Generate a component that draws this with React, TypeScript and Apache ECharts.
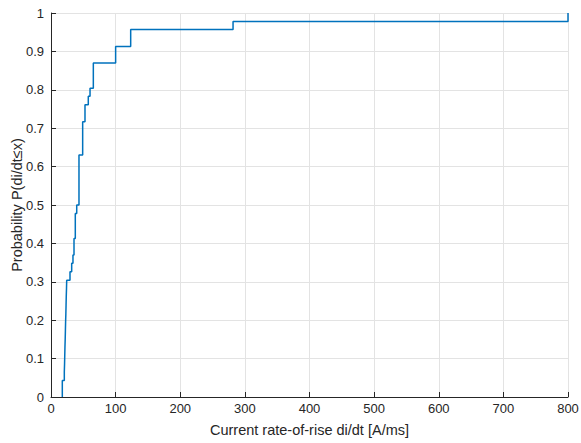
import React, { useEffect, useRef } from "react";
import * as echarts from "echarts";

// Empirical CDF of di/dt: step positions (A/ms) and cumulative probability after each step
const stepX = [17.5, 17.5, 20.6, 21, 21.3, 21.6, 22, 22.3, 22.6, 23, 23.3, 23.6, 24, 24.3, 29.4, 32, 34, 35.6, 37.6, 39.8, 43.3, 49, 52.6, 57.7, 60.4, 65.5, 100, 123.3, 281.7, 800];
const stepY = [0, 0.043, 0.065, 0.087, 0.109, 0.13, 0.152, 0.174, 0.196, 0.217, 0.239, 0.261, 0.283, 0.304, 0.326, 0.348, 0.37, 0.413, 0.478, 0.5, 0.63, 0.717, 0.761, 0.783, 0.804, 0.87, 0.913, 0.957, 0.978, 1];

const xTicks = [0, 100, 200, 300, 400, 500, 600, 700, 800];
const yTicks = [0, 0.1, 0.2, 0.3, 0.4, 0.5, 0.6, 0.7, 0.8, 0.9, 1];

const xTitle = "Current rate-of-rise di/dt [A/ms]";
const yTitle = "Probability P(di/dt\u2264x)";

export default function App() {
  const ref = useRef<HTMLDivElement>(null);
  useEffect(() => {
    if (!ref.current) return;
    const chart = echarts.init(ref.current, null, { renderer: "svg" });
    const font = "'Liberation Sans', Arial, sans-serif";
    const axisColor = "#262626";
    chart.setOption({
      animation: false,
      grid: { left: 51, right: 13, top: 13, bottom: 46, containLabel: false, outerBoundsMode: "none" },
      xAxis: {
        type: "value",
        min: xTicks[0],
        max: xTicks[xTicks.length - 1],
        interval: 100,
        name: xTitle,
        nameLocation: "middle",
        nameGap: 25,
        nameMoveOverlap: false,
        nameTextStyle: { color: axisColor, fontSize: 14.5, fontFamily: font },
        axisLine: { show: true, onZero: false, lineStyle: { color: axisColor, width: 1 } },
        axisTick: { show: true, inside: true, length: 5, lineStyle: { color: axisColor } },
        axisLabel: { color: axisColor, fontSize: 13, fontFamily: font, margin: 5 },
        splitLine: { show: true, lineStyle: { color: "#e3e3e3", width: 1 } },
      },
      yAxis: {
        type: "value",
        min: yTicks[0],
        max: yTicks[yTicks.length - 1],
        interval: 0.1,
        name: yTitle,
        nameLocation: "middle",
        nameGap: 27,
        nameMoveOverlap: false,
        nameTextStyle: { color: axisColor, fontSize: 14.5, fontFamily: font },
        axisLine: { show: true, onZero: false, lineStyle: { color: axisColor, width: 1 } },
        axisTick: { show: true, inside: true, length: 5, lineStyle: { color: axisColor } },
        axisLabel: {
          color: axisColor,
          fontSize: 13,
          fontFamily: font,
          margin: 7,
          formatter: (v: number) => String(Math.round(v * 10) / 10),
        },
        splitLine: { show: true, lineStyle: { color: "#e3e3e3", width: 1 } },
      },
      series: [
        {
          type: "line",
          step: "end",
          showSymbol: false,
          symbol: "none",
          clip: false,
          data: stepX.map((x, i) => [x, stepY[i]]),
          lineStyle: { color: "#0072BD", width: 1.5 },
        },
      ],
    });
    return () => chart.dispose();
  }, []);
  return (
    <div
      ref={ref}
      style={{ width: 581, height: 443, position: "absolute", left: 0, top: 0, background: "#fff" }}
    />
  );
}
